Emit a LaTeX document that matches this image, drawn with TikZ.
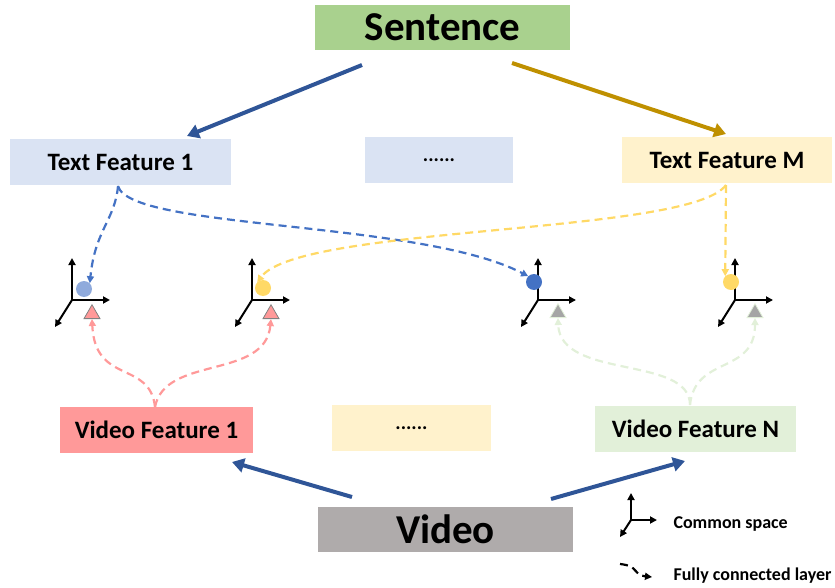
\documentclass[tikz,border=0pt]{standalone}
\usepackage{fontspec}
\setmainfont{Carlito}
\usetikzlibrary{arrows.meta,shapes.geometric}
\definecolor{sentgreen}{HTML}{A9D18E}
\definecolor{tfblue}{HTML}{DAE3F3}
\definecolor{tfyellow}{HTML}{FFF2CC}
\definecolor{vfpink}{HTML}{FF9999}
\definecolor{vfgreen}{HTML}{E2F0D9}
\definecolor{vidgray}{HTML}{AFABAB}
\definecolor{darkblue}{HTML}{2F5597}
\definecolor{gold}{HTML}{BF9000}
\definecolor{midblue}{HTML}{4472C4}
\definecolor{lightblue}{HTML}{8FAADC}
\definecolor{sunyellow}{HTML}{FFD966}
\definecolor{pinkline}{HTML}{FF9999}
\definecolor{paleline}{HTML}{E2F0D9}
\definecolor{trigray}{HTML}{A5A5A5}
\tikzset{
  box/.style={draw=none, inner sep=0pt, font=\bfseries\fontsize{25}{30}\selectfont},
  bigbox/.style={draw=none, inner sep=0pt, font=\bfseries\fontsize{41}{48}\selectfont},
  thickarrow/.style={line width=4pt, -{Triangle[length=12pt,width=14pt]}},
  fcline/.style={line width=2.2pt, dash pattern=on 8pt off 5pt, -{Triangle[length=7pt,width=7pt]}},
  axis/.style={line width=2pt, -{Triangle[length=7pt,width=7pt]}},
  dot/.style={circle, minimum size=16, inner sep=0pt},
  tri/.style={isosceles triangle, isosceles triangle apex angle=60, shape border rotate=90,
              minimum width=16, minimum height=13, inner sep=0pt, line width=0.8pt},
  legend/.style={anchor=west, font=\bfseries\fontsize{18}{21}\selectfont}
}
\newcommand{\commonspace}[1]{%
  \draw[axis] (#1) -- ++(0,-42);
  \draw[axis] (#1) -- ++(38,0);
  \draw[axis] (#1) -- ++(-17,27);
}
\begin{document}
\begin{tikzpicture}[x=1pt,y=-1pt]
\useasboundingbox (0,0) rectangle (835,588);

% boxes
\node[box, bigbox, fill=sentgreen, minimum width=255, minimum height=45] (sent) at (442.5,27.5) {Sentence};
\node[box, fill=tfblue, minimum width=221, minimum height=46] (tf1) at (120.5,162) {Text Feature 1};
\node[box, fill=tfblue, minimum width=148, minimum height=46] (tfdots) at (439,160) {\fontsize{20}{24}\selectfont......};
\node[box, fill=tfyellow, minimum width=210, minimum height=46] (tfm) at (727,160) {Text Feature M};
\node[box, fill=vfpink, minimum width=193, minimum height=46] (vf1) at (156.5,430) {Video Feature 1};
\node[box, fill=tfyellow, minimum width=159, minimum height=46] (vfdots) at (411.5,428) {\fontsize{20}{24}\selectfont......};
\node[box, fill=vfgreen, minimum width=201, minimum height=46] (vfn) at (695.5,429) {Video Feature N};
\node[box, bigbox, fill=vidgray, minimum width=255, minimum height=45] (video) at (445.5,529.5) {Video};

% encoder arrows
\coordinate (s1) at (362,65);  \coordinate (e1) at (187,136);
\coordinate (s2) at (512,63);  \coordinate (e2) at (726,134);
\coordinate (s3) at (352,497); \coordinate (e3) at (232,462);
\coordinate (s4) at (551,499); \coordinate (e4) at (685,461);
\draw[thickarrow, darkblue] (s1) -- (e1);
\draw[thickarrow, gold] (s2) -- (e2);
\draw[thickarrow, darkblue] (s3) -- (e3);
\draw[thickarrow, darkblue] (s4) -- (e4);

% common spaces
\coordinate (o1) at (72,300);
\coordinate (o2) at (252,300);
\coordinate (o3) at (538,300);
\coordinate (o4) at (735,300);
\foreach \o in {o1,o2,o3,o4} {\commonspace{\o}}

% embedded points
\node[dot, fill=lightblue] (c1) at (84,289) {};
\node[dot, fill=sunyellow] (c2) at (263,288) {};
\node[dot, fill=midblue] (c3) at (534,282) {};
\node[dot, fill=sunyellow] (c4) at (731,282) {};

\node[tri, draw=gray, fill=vfpink] (t1) at (92,314) {};
\node[tri, draw=gray, fill=vfpink] (t2) at (271,314) {};
\node[tri, draw=paleline, fill=trigray] (t3) at (558,313) {};
\node[tri, draw=paleline, fill=trigray] (t4) at (755,313) {};

% fully connected layers: text side
\coordinate (tfa) at (118,186);
\coordinate (tfb) at (726,185);
\draw[fcline, midblue] (tfa) .. controls (115,220) and (95,230) .. (c1.north east);
\draw[fcline, midblue] (tfa) .. controls (130,230) and (420,220) .. (c3.north west);
\draw[fcline, sunyellow] (tfb) -- (c4.north west);
\draw[fcline, sunyellow] (tfb) .. controls (690,235) and (300,225) .. (c2.north west);

% fully connected layers: video side
\coordinate (vfa) at (155,407);
\coordinate (vfb) at (690,405);
\draw[fcline, pinkline] (vfa) .. controls (150,360) and (95,385) .. (t1.south);
\draw[fcline, pinkline] (vfa) .. controls (165,355) and (265,380) .. (t2.south);
\draw[fcline, paleline] (vfb) .. controls (690,355) and (560,380) .. (t3.south);
\draw[fcline, paleline] (vfb) .. controls (695,355) and (755,375) .. (t4.south);

% legend
\coordinate (lo) at (631,520);
\draw[axis] (lo) -- ++(0,-27);
\draw[axis] (lo) -- ++(26,0);
\draw[axis] (lo) -- ++(-11,17);
\node[legend] (lcs) at (670,524) {Common space};
\coordinate (la) at (620,564);
\coordinate (lb) at (652,577);
\draw[fcline, black] (la) .. controls (640,566) and (632,575) .. (lb);
\node[legend] (lfc) at (670,576) {Fully connected layer};
\end{tikzpicture}
\end{document}
